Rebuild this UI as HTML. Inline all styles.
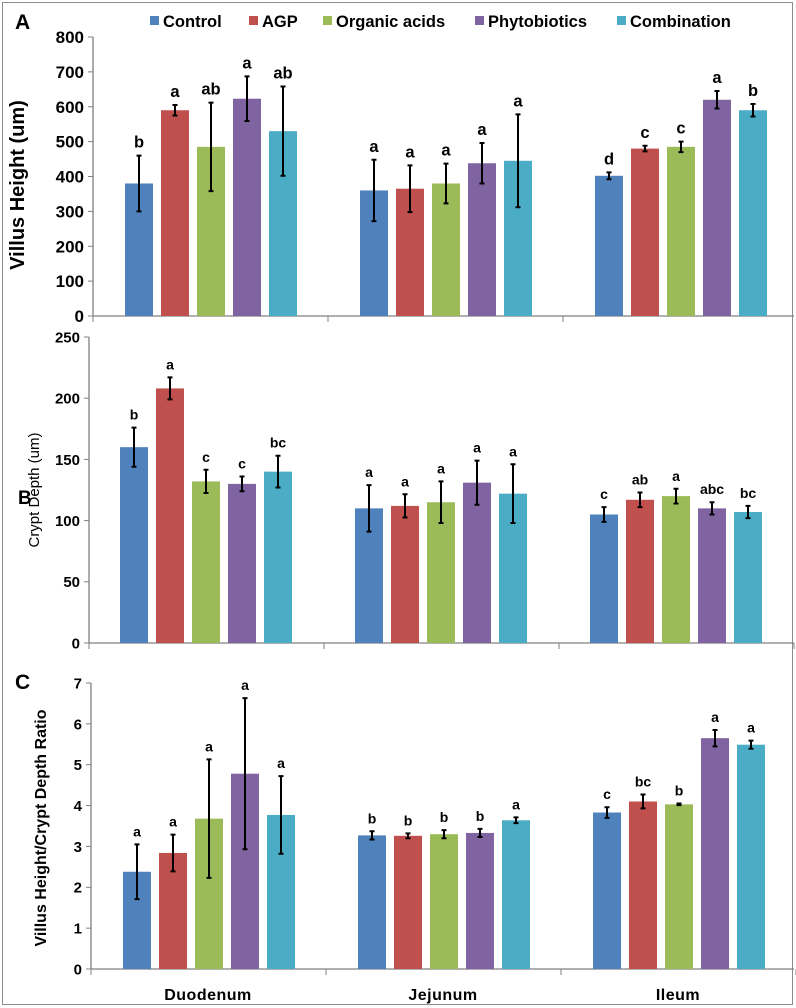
<!DOCTYPE html>
<html><head><meta charset="utf-8"><style>
html,body{margin:0;padding:0;background:#fff;}
svg{display:block;font-family:"Liberation Sans",Arial,sans-serif;}
</style></head><body>
<svg id="chart" width="796" height="1008" viewBox="0 0 796 1008">
<rect x="2.5" y="2.5" width="790" height="1002" fill="#fff" stroke="#8c8c8c" stroke-width="1"/>
<g id="legend"></g>
<g id="panels"></g>
</svg>
<script>
const categories = ["Duodenum", "Jejunum", "Ileum"];
const seriesNames = ["Control", "AGP", "Organic acids", "Phytobiotics", "Combination"];
const colors = ["#4f81bd", "#c0504d", "#9bbb59", "#8064a2", "#4bacc6"];

const villusValues = [[380,590,485,623,530],[360,365,380,438,445],[402,480,485,620,590]];
const villusErrors = [[80,15,127,64,128],[88,67,57,58,133],[10,8,15,25,18]];
const villusLetters = [["b","a","ab","a","ab"],["a","a","a","a","a"],["d","c","c","a","b"]];
const villusTicks = [0,100,200,300,400,500,600,700,800];

const cryptValues = [[160,208,132,130,140],[110,112,115,131,122],[105,117,120,110,107]];
const cryptErrors = [[16,9,9.5,6,13],[19,9.5,17,18,24],[6,6,6,5,5]];
const cryptLetters = [["b","a","c","c","bc"],["a","a","a","a","a"],["c","ab","a","abc","bc"]];
const cryptTicks = [0,50,100,150,200,250];

const ratioValues = [[2.38,2.84,3.68,4.78,3.77],[3.27,3.26,3.30,3.33,3.64],[3.83,4.10,4.03,5.65,5.49]];
const ratioErrors = [[0.67,0.45,1.45,1.85,0.95],[0.10,0.06,0.10,0.10,0.07],[0.13,0.17,0.02,0.20,0.10]];
const ratioLetters = [["a","a","a","a","a"],["b","b","b","b","a"],["c","bc","b","a","a"]];
const ratioTicks = [0,1,2,3,4,5,6,7];

const NS = "http://www.w3.org/2000/svg";
const root = document.getElementById("panels");
function mk(tag, attrs, parent, text){
  const e = document.createElementNS(NS, tag);
  for (const k in attrs) e.setAttribute(k, attrs[k]);
  if (text !== undefined) e.textContent = text;
  (parent || root).appendChild(e);
  return e;
}

function drawPanel(cfg){
  const g = mk("g", {});
  
  
  const yScale = v => cfg.y0 - (v / cfg.max) * (cfg.y0 - cfg.yTop);
  const catW = 235;
  const xCat = i => cfg.ax + i * catW;
  const ya = mk("line", {x1:cfg.ax, y1:cfg.yTop, x2:cfg.ax, y2:cfg.y0, stroke:"#808080", "stroke-width":1.3}, g);
  
  
  const xa = mk("line", {x1:cfg.ax, y1:cfg.y0, x2:794, y2:cfg.y0, stroke:"#808080", "stroke-width":1.3}, g);
  
  
  cfg.ticks.forEach(t => {
    const y = yScale(t);
    mk("line", {x1:cfg.ax-5, y1:y, x2:cfg.ax, y2:y, stroke:"#808080", "stroke-width":1}, g);
    const tl = mk("text", {x:cfg.ax-9, y:y+cfg.tickSize*0.36, "text-anchor":"end", "font-size":cfg.tickSize, "font-weight":"bold", fill:"#000"}, g, String(t));
    
    
  });
  for (let i = 0; i <= categories.length; i++) {
    mk("line", {x1:xCat(i), y1:cfg.y0, x2:xCat(i), y2:cfg.y0+6, stroke:"#808080", "stroke-width":1}, g);
  }
  cfg.values.forEach((grp, ci) => {
    grp.forEach((v, si) => {
      const x = xCat(ci) + cfg.off + si * 36;
      const y = yScale(v);
      const bar = mk("rect", {x:x, y:y, width:28, height:cfg.y0 - y, fill:colors[si]}, g);
      
      
      const e = cfg.errors[ci][si];
      const cx = x + 14, yt = yScale(v + e), yb = yScale(v - e);
      const eb = mk("path", {d:`M${cx},${yt}V${yb}M${cx-2.5},${yt}H${cx+2.5}M${cx-2.5},${yb}H${cx+2.5}`, stroke:"#000", "stroke-width":2, fill:"none"}, g);
      
      
      const lt = mk("text", {x:cx, y:yt - 8, "text-anchor":"middle", "font-size":cfg.letterSize, "font-weight":"bold", fill:"#000"}, g, cfg.letters[ci][si]);
      
      
    });
  });
  return g;
}

drawPanel({name:"panel-a-villus-height", ax:93, y0:316, yTop:37, max:800, ticks:villusTicks, values:villusValues, errors:villusErrors, letters:villusLetters, off:32, tickSize:17, letterSize:16.5});
drawPanel({name:"panel-b-crypt-depth", ax:89, y0:643, yTop:337, max:250, ticks:cryptTicks, values:cryptValues, errors:cryptErrors, letters:cryptLetters, off:31, tickSize:15, letterSize:14});
drawPanel({name:"panel-c-ratio", ax:91, y0:969, yTop:683, max:7, ticks:ratioTicks, values:ratioValues, errors:ratioErrors, letters:ratioLetters, off:32, tickSize:15, letterSize:14});

let t;
t = mk("text", {x:0, y:0, transform:"translate(24,185) rotate(-90)", "text-anchor":"middle", "font-size":20, "font-weight":"bold"}, root, "Villus Height (um)");


t = mk("text", {x:0, y:0, transform:"translate(39,490) rotate(-90)", "text-anchor":"middle", "font-size":15}, root, "Crypt Depth (um)");


t = mk("text", {x:0, y:0, transform:"translate(46,828) rotate(-90)", "text-anchor":"middle", "font-size":16, "font-weight":"bold"}, root, "Villus Height/Crypt Depth Ratio");


t = mk("text", {x:15, y:29, "font-size":21, "font-weight":"bold"}, root, "A");


t = mk("text", {x:18, y:504, "font-size":19, "font-weight":"bold"}, root, "B");


t = mk("text", {x:15, y:689, "font-size":21, "font-weight":"bold"}, root, "C");


categories.forEach((c, i) => {
  const el = mk("text", {x:91 + i*235 + 117, y:1000, "text-anchor":"middle", "font-size":16, "font-weight":"bold", "letter-spacing":"0.5"}, root, c);
  
  
});

const legend = document.getElementById("legend");
const legendX = [150, 249, 323, 475, 617];
seriesNames.forEach((n, i) => {
  const sw = mk("rect", {x:legendX[i], y:16, width:9, height:9, fill:colors[i]}, legend);
  
  
  const lt = mk("text", {x:legendX[i] + 13, y:27, "font-size":16.5, "font-weight":"bold"}, legend, n);
  
  
});
</script>
</body></html>
